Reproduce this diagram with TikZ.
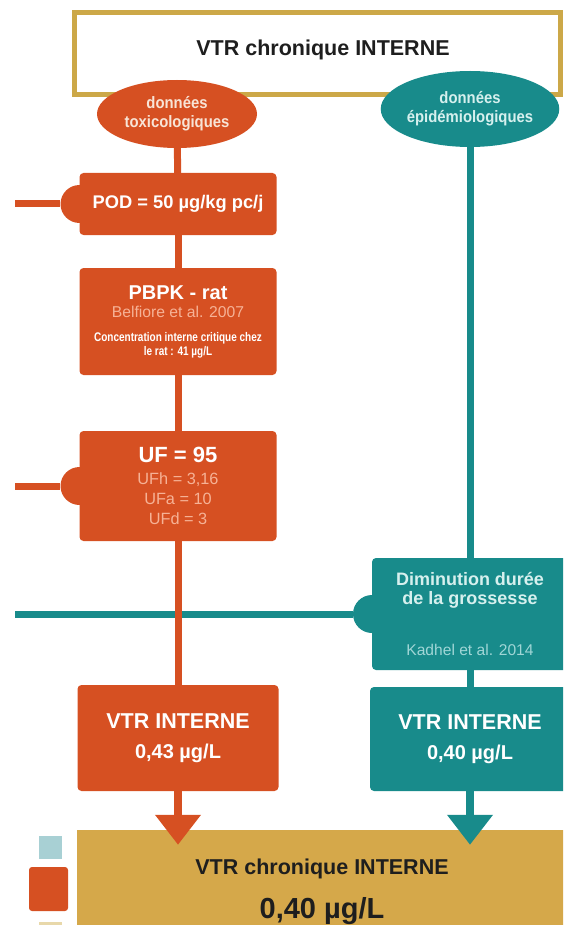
\documentclass[tikz,border=0pt]{standalone}
\usepackage{fontspec}
\setmainfont{Liberation Sans}
\newfontfamily\narrowfont[FakeStretch=0.8]{Liberation Sans}
\newfontfamily\bullefont[FakeStretch=0.9]{Liberation Sans}
\usetikzlibrary{shapes.geometric,arrows.meta}
\definecolor{rouille}{RGB}{214,80,34}
\definecolor{canard}{RGB}{24,139,139}
\definecolor{or}{RGB}{204,168,72}
\definecolor{ocre}{RGB}{213,168,74}
\definecolor{encre}{RGB}{30,30,30}
\definecolor{saumon}{RGB}{246,178,150}
\definecolor{creme}{RGB}{248,228,214}
\definecolor{glace}{RGB}{214,240,238}
\definecolor{lagon}{RGB}{160,214,214}
\definecolor{bleupale}{RGB}{168,208,212}
\definecolor{sable}{RGB}{232,216,170}
\newcommand\gras[2]{{\bfseries\fontsize{#1}{#1}\selectfont #2}}
\newcommand\maigre[3]{{\color{#1}\fontsize{#2}{#2}\selectfont #3}}
\newcommand\etroit[1]{{\narrowfont\bfseries\fontsize{12.5}{12.5}\selectfont #1}}
\begin{document}
\begin{tikzpicture}[x=1pt,y=-1pt,
    boite/.style={rectangle,rounded corners=4pt,fill=#1,minimum width=197pt,inner sep=0pt,align=center,text=white},
    bulle/.style={ellipse,fill=#1,inner sep=0pt,align=center,
      font=\bullefont\bfseries\fontsize{16.5}{19}\selectfont},
    bosse/.style={circle,fill=#1,minimum size=38pt,inner sep=0pt},
    trait/.style={draw=#1,line width=7pt},
    fleche/.style={draw=#1,line width=8pt,-{Triangle[width=44pt,length=30pt]},shorten >=-15pt}]
  \useasboundingbox (0,0) rectangle (563,925);
  \clip (0,0) rectangle (563,925);
  \draw
    (79.5,204) node[bosse=rouille] (b1){}
    (79.5,486) node[bosse=rouille] (b2){}
    (372,614) node[bosse=canard] (b3){};
  \draw
    (317.5,53.5) node[draw=or,line width=5pt,fill=white,minimum width=486pt,minimum height=82pt,
      text height=16pt,text depth=11pt,text=encre,font=\bfseries\fontsize{21.5}{24}\selectfont] (haut){\hspace*{11pt}VTR chronique INTERNE}
    (177,114) node[bulle=rouille,text=creme,minimum width=160pt,minimum height=68pt] (tox){données\\toxicologiques}
    (470,109) node[bulle=canard,text=glace,minimum width=166pt,minimum height=76pt] (epi){données\\épidémiologiques}
    (178,204) node[boite=rouille,minimum height=62pt] (pod){\gras{18.3}{POD = 50 µg/kg pc/j}}
    (178,321.5) node[boite=rouille,minimum height=107pt] (pbpk){%
      \gras{20}{PBPK - rat}\\[6pt]
      \maigre{saumon}{15.7}{Belfiore et al. 2007}\\[12pt]
      \etroit{Concentration interne critique chez}\\[2pt]
      \etroit{le rat : 41 µg/L}}
    (178,486) node[boite=rouille,minimum height=110pt] (uf){%
      \gras{22}{UF = 95}\\[9pt]
      \maigre{saumon}{16.3}{UFh = 3,16}\\[6pt]
      \maigre{saumon}{16.3}{UFa = 10}\\[8pt]
      \maigre{saumon}{16.3}{UFd = 3}}
    (470,614) node[boite=canard,minimum width=196pt,minimum height=112pt] (dim){%
      {\color{glace}\gras{18}{Diminution durée}}\\[5pt]
      {\color{glace}\gras{18}{de la grossesse}}\\[35pt]
      \maigre{lagon}{15.6}{Kadhel et al. 2014}}
    (178,738) node[boite=rouille,minimum width=201pt,minimum height=106pt] (vtrT){%
      \gras{21.5}{VTR INTERNE}\\[14pt]\gras{20}{0,43 µg/L}}
    (470,739) node[boite=canard,minimum width=200pt,minimum height=104pt] (vtrE){%
      \gras{21.5}{VTR INTERNE}\\[14pt]\gras{20}{0,40 µg/L}}
    (322,892) node[fill=ocre,minimum width=490pt,minimum height=124pt,align=center,text=encre] (final){%
      \gras{21.5}{VTR chronique INTERNE}\\[17pt]\gras{29}{0,40 µg/L}};
  \coordinate (g1) at (15,204);
  \coordinate (g2) at (15,486);
  \coordinate (g3) at (15,614);
  \fill[bleupale] (39,836) rectangle (62,859);
  \fill[rouille,rounded corners=3pt] (29,867) rectangle (68,911);
  \fill[sable] (39,922) rectangle (62,945);
  \begin{scope}[trait=canard]
    \draw (g3) to (b3);
    \draw (epi) to (dim);
    \draw (dim) to (vtrE);
  \end{scope}
  \begin{scope}[trait=rouille]
    \draw (g1) to (b1);
    \draw (g2) to (b2);
    \draw (tox) to (pod);
    \draw (pod) to (pbpk);
    \draw (pbpk) to (uf);
    \draw (uf) to (vtrT);
  \end{scope}
  \draw[fleche=rouille] (vtrT) to (vtrT |- final.north);
  \draw[fleche=canard] (vtrE) to (vtrE |- final.north);
\end{tikzpicture}
\end{document}
